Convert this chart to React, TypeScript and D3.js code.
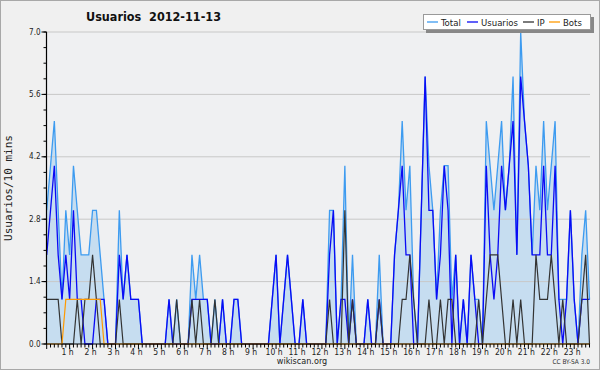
import React from "react";
import * as d3 from "d3";

// 10-minute slots, 2012-11-13
const usuarios = [
  2, 3, 4, 2, 1, 2, 1, 3, 1, 1,
  0, 0, 0, 1, 1, 1, 0, 0, 0, 2,
  1, 2, 1, 1, 1, 0, 0, 0, 0, 0,
  0, 0, 1, 0, 0, 0, 0, 0, 1, 1,
  1, 1, 1, 0, 0, 0, 1, 0, 0, 1,
  1, 0, 0, 0, 0, 0, 0, 0, 0, 1,
  2, 0, 1, 2, 1, 0, 0, 1, 0, 0,
  0, 0, 0, 0, 2, 3, 0, 1, 1, 0,
  1, 0, 0, 0, 1, 0, 0, 1, 0, 0,
  0, 2, 3, 4, 2, 2, 0, 0, 3, 6,
  3, 3, 1, 2, 4, 3, 0, 2, 0, 1,
  0, 2, 1, 0, 0, 4, 2, 1, 2, 4,
  3, 4, 5, 2, 6, 5, 4, 2, 2, 2,
  4, 2, 2, 4, 1, 0, 1, 3, 1, 0,
  1, 1, 1,
];

const ip = [
  1, 1, 1, 1, 0, 0, 0, 0, 1, 0,
  1, 1, 2, 1, 0, 0, 0, 0, 0, 1,
  0, 0, 0, 0, 0, 0, 0, 0, 0, 0,
  0, 0, 0, 0, 1, 0, 0, 0, 1, 0,
  1, 0, 0, 0, 1, 0, 0, 0, 0, 0,
  0, 0, 0, 0, 0, 0, 0, 0, 0, 0,
  0, 0, 0, 0, 0, 0, 0, 0, 0, 0,
  0, 0, 0, 0, 1, 0, 0, 0, 3, 0,
  1, 0, 0, 0, 0, 0, 0, 1, 0, 0,
  0, 0, 0, 1, 1, 2, 1, 0, 0, 0,
  1, 0, 0, 1, 0, 1, 1, 0, 0, 0,
  0, 0, 0, 1, 0, 1, 2, 2, 2, 1,
  0, 0, 1, 0, 1, 0, 0, 0, 2, 1,
  1, 1, 2, 1, 0, 1, 0, 0, 0, 0,
  1, 2, 0,
];

const bots = [
  0, 0, 0, 0, 0, 1, 1, 1, 1, 1,
  1, 1, 1, 1, 1, 0, 0, 0, 0, 0,
  0, 0, 0, 0, 0, 0, 0, 0, 0, 0,
  0, 0, 0, 0, 0, 0, 0, 0, 0, 0,
  0, 0, 0, 0, 0, 0, 0, 0, 0, 0,
  0, 0, 0, 0, 0, 0, 0, 0, 0, 0,
  0, 0, 0, 0, 0, 0, 0, 0, 0, 0,
  0, 0, 0, 0, 0, 0, 0, 0, 0, 0,
  0, 0, 0, 0, 0, 0, 0, 0, 0, 0,
  0, 0, 0, 0, 0, 0, 0, 0, 0, 0,
  0, 0, 0, 0, 0, 0, 0, 0, 0, 0,
  0, 0, 0, 0, 0, 0, 0, 0, 0, 0,
  0, 0, 0, 0, 0, 0, 0, 0, 0, 0,
  0, 0, 0, 0, 0, 0, 0, 0, 0, 0,
  0, 0, 0,
];

const total = [
  3, 4, 5, 3, 1, 3, 2, 4, 3, 2,
  2, 2, 3, 3, 2, 1, 0, 0, 0, 3,
  1, 2, 1, 1, 1, 0, 0, 0, 0, 0,
  0, 0, 1, 0, 1, 0, 0, 0, 2, 1,
  2, 1, 1, 0, 1, 0, 1, 0, 0, 1,
  1, 0, 0, 0, 0, 0, 0, 0, 0, 1,
  2, 0, 1, 2, 1, 0, 0, 1, 0, 0,
  0, 0, 0, 0, 3, 3, 0, 1, 4, 0,
  2, 0, 0, 0, 1, 0, 0, 2, 0, 0,
  0, 2, 3, 5, 3, 4, 1, 0, 3, 6,
  4, 3, 1, 3, 4, 4, 1, 2, 0, 1,
  0, 2, 1, 1, 0, 5, 4, 3, 4, 5,
  3, 4, 6, 2, 7, 5, 4, 2, 4, 3,
  5, 3, 4, 5, 1, 1, 1, 3, 1, 0,
  2, 3, 1,
];

const yTicks = [0, 1.4, 2.8, 4.2, 5.6, 7.0];
const hourLabels = d3.range(1, 24).map((h) => `${h} h`);

const legendItems = [
  { name: "Total", color: "#3d9bf0" },
  { name: "Usuarios", color: "#0a0af5" },
  { name: "IP", color: "#333333" },
  { name: "Bots", color: "#ff9900" },
];
// start of each legend entry (line sample), text follows it
const legendX = [427, 467, 523, 549];

const font = "'DejaVu Sans Condensed', 'DejaVu Sans', sans-serif";

export default function App() {
  const width = 600;
  const height = 370;
  const left = 46.5;
  const right = 590;
  const top = 32;
  const bottom = 344;

  const x = d3.scaleLinear().domain([0, total.length - 1]).range([46.7, 589.5]);
  const y = d3.scaleLinear().domain([0, 7]).range([bottom, top]);

  const line = d3
    .line<number>()
    .x((_, i) => x(i))
    .y((d) => y(d));
  const area = d3
    .area<number>()
    .x((_, i) => x(i))
    .y0(bottom)
    .y1((d) => y(d));

  const minorY = d3.range(0, 7.0001, 0.35);
  const slots = d3.range(0, total.length);

  return (
    <div style={{ width, height }}>
      <style>{`body{margin:0}`}</style>
      <svg width={width} height={height} style={{ display: "block" }}>
        <rect x={0.5} y={0.5} width={width - 1} height={height - 1} fill="#f0f0f0" stroke="#a8a8a8" />
        <rect x={left} y={top} width={right - left} height={bottom - top} fill="#eff0f2" />

        {/* title */}
        <text x={86} y={21} fontFamily={font} fontSize={12.5} fontWeight="bold" fill="#111" style={{ whiteSpace: "pre" }}>
          {"Usuarios  2012-11-13"}
        </text>

        {/* filled total */}
        <path d={area(total) || ""} fill="#c6ddf0" />

        {/* grid */}
        {yTicks.slice(1).map((t) => (
          <line key={t} x1={left} x2={right} y1={y(t)} y2={y(t)} stroke="#c8c8c8" strokeWidth={1} />
        ))}

        {/* series */}
        <path d={line(total) || ""} fill="none" stroke={legendItems[0].color} strokeWidth={1.3} />
        <path d={line(usuarios) || ""} fill="none" stroke={legendItems[1].color} strokeWidth={1.3} />
        <path d={line(ip) || ""} fill="none" stroke={legendItems[2].color} strokeWidth={1.2} />
        <path d={line(bots) || ""} fill="none" stroke={legendItems[3].color} strokeWidth={1.2} />

        {/* y axis */}
        <line x1={left} x2={left} y1={top} y2={bottom} stroke="#000" strokeWidth={1.2} />
        {minorY.map((t) => (
          <line key={t} x1={left - 3} x2={left} y1={y(t)} y2={y(t)} stroke="#000" strokeWidth={1} />
        ))}
        {yTicks.map((t) => (
          <g key={t}>
            <line x1={left - 5} x2={left} y1={y(t)} y2={y(t)} stroke="#000" strokeWidth={1} />
            <text x={left - 6} y={y(t) + 2.5} textAnchor="end" fontFamily={font} fontSize={8} fill="#222">
              {t.toFixed(1)}
            </text>
          </g>
        ))}
        <text
          transform={`translate(12,${(top + bottom) / 2}) rotate(-90)`}
          textAnchor="middle"
          fontFamily="'DejaVu Sans Mono', monospace"
          fontSize={11}
          fill="#222"
        >
          Usuarios/10 mins
        </text>

        {/* x axis */}
        <line x1={left} x2={right} y1={bottom} y2={bottom} stroke="#000" strokeWidth={1.2} />
        {slots.map((i) => (
          <line key={i} x1={x(i)} x2={x(i)} y1={bottom} y2={bottom + (i % 6 === 0 ? 5 : 3.5)} stroke="#000" strokeWidth={1} />
        ))}
        {hourLabels.map((lab, k) => (
          <text key={lab} x={x((k + 1) * 6) - 2} y={bottom + 11} textAnchor="middle" fontFamily={font} fontSize={8.5} fill="#222">
            {lab}
          </text>
        ))}
        <text x={302} y={364} textAnchor="middle" fontFamily={font} fontSize={9} fill="#222">
          wikiscan.org
        </text>
        <text x={590} y={364} textAnchor="end" fontFamily={font} fontSize={6.5} fill="#333">
          CC BY-SA 3.0
        </text>

        {/* legend */}
        <rect x={426} y={17} width={168} height={16} fill="#888" />
        <rect x={423.5} y={14.5} width={167} height={15} fill="#fff" stroke="#999" />
        {legendItems.map((it, k) => (
          <g key={it.name}>
            <line x1={legendX[k]} x2={legendX[k] + 11} y1={22} y2={22} stroke={it.color} strokeWidth={1.3} />
            <text x={legendX[k] + 14} y={25.5} fontFamily={font} fontSize={9.5} fill="#222">
              {it.name}
            </text>
          </g>
        ))}
      </svg>
    </div>
  );
}
